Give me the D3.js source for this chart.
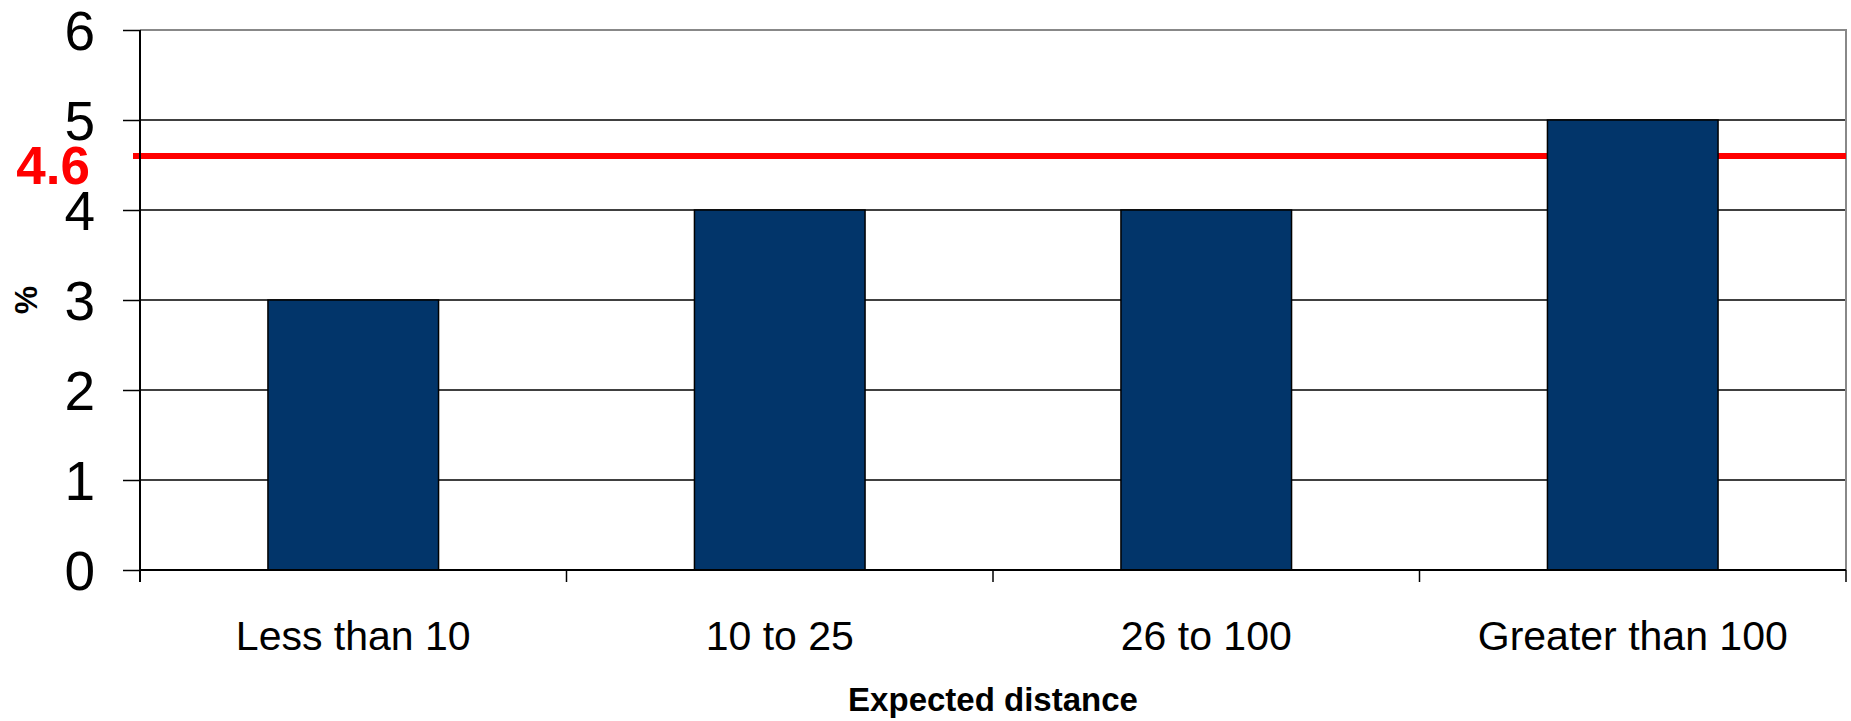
<!DOCTYPE html>
<html>
<head>
<meta charset="utf-8">
<script src="https://cdn.jsdelivr.net/npm/d3@7/dist/d3.min.js"></script>
<style>
  html, body { margin: 0; padding: 0; background: #fff; }
  svg { display: block; }
</style>
</head>
<body>
<svg id="chart" width="1851" height="721"></svg>
<script>
const categories = ["Less than 10", "10 to 25", "26 to 100", "Greater than 100"];
const values = [3, 4, 4, 5];
const yTicks = [0, 1, 2, 3, 4, 5, 6];
const referenceValue = 4.6;
const referenceLabel = "4.6";
const yTitle = "%";
const xTitle = "Expected distance";

const W = 1851, H = 721;
const m = { left: 140, right: 5, top: 30, bottom: 151 };
const svg = d3.select("#chart");

const x = d3.scaleBand().domain(categories).range([m.left, W - m.right]).padding(0);
const y = d3.scaleLinear().domain([0, 6]).range([H - m.bottom, m.top]);
const barW = x.bandwidth() * 0.4;

// gridlines
svg.append("g").selectAll("line").data(yTicks.filter(d => d > 0 && d < 6)).join("line")
  .attr("x1", m.left).attr("x2", W - m.right)
  .attr("y1", d => y(d)).attr("y2", d => y(d))
  .attr("stroke", "#000").attr("stroke-width", 1.5);

// top / right border (grey)
svg.append("path")
  .attr("d", `M${m.left},${y(6)}H${W - m.right}V${y(0)}`)
  .attr("fill", "none").attr("stroke", "#888").attr("stroke-width", 2);

// reference line (behind bars)
svg.append("line")
  .attr("x1", m.left - 7).attr("x2", W - m.right)
  .attr("y1", y(referenceValue)).attr("y2", y(referenceValue))
  .attr("stroke", "#ff0000").attr("stroke-width", 6);

// bars
svg.append("g").selectAll("rect").data(categories).join("rect")
  .attr("x", d => x(d) + (x.bandwidth() - barW) / 2)
  .attr("width", barW)
  .attr("y", (d, i) => y(values[i]))
  .attr("height", (d, i) => y(0) - y(values[i]))
  .attr("fill", "#02356a")
  .attr("stroke", "#000").attr("stroke-width", 1.5);

// y axis
const yAxis = svg.append("g").attr("transform", `translate(${m.left},0)`)
  .call(d3.axisLeft(y).tickValues(yTicks).tickSize(17).tickSizeOuter(0).tickPadding(28).tickFormat(d3.format("d")));
yAxis.select(".domain").remove();
yAxis.selectAll(".tick line").attr("stroke", "#000").attr("stroke-width", 1.5);
yAxis.selectAll(".tick text")
  .attr("font-family", "Liberation Sans, Arial, sans-serif")
  .attr("font-size", 55).attr("fill", "#000").attr("dy", "0.36em");
svg.append("line")
  .attr("x1", m.left).attr("x2", m.left)
  .attr("y1", y(6)).attr("y2", y(0) + 12)
  .attr("stroke", "#000").attr("stroke-width", 2);

// x axis
svg.append("line")
  .attr("x1", m.left).attr("x2", W - m.right)
  .attr("y1", y(0)).attr("y2", y(0))
  .attr("stroke", "#000").attr("stroke-width", 2);
const bounds = categories.map(c => x(c)).concat([x(categories[categories.length - 1]) + x.bandwidth()]);
svg.append("g").selectAll("line").data(bounds).join("line")
  .attr("x1", d => d).attr("x2", d => d)
  .attr("y1", y(0)).attr("y2", y(0) + 12)
  .attr("stroke", "#000").attr("stroke-width", 1.5);

const xAxis = svg.append("g").attr("transform", `translate(0,${y(0)})`)
  .call(d3.axisBottom(x).tickSize(0).tickSizeOuter(0).tickPadding(0));
xAxis.select(".domain").remove();
xAxis.selectAll(".tick text")
  .attr("font-family", "Liberation Sans, Arial, sans-serif")
  .attr("font-size", 41).attr("fill", "#000")
  .attr("dy", null).attr("y", 80)
  .attr("text-anchor", "middle");

// titles
svg.append("text")
  .attr("x", (m.left + W - m.right) / 2).attr("y", 711)
  .attr("text-anchor", "middle")
  .attr("font-family", "Liberation Sans, Arial, sans-serif")
  .attr("font-weight", "bold").attr("font-size", 33)
  .text(xTitle);

svg.append("text")
  .attr("transform", `translate(37,${(y(0) + y(6)) / 2}) rotate(-90)`)
  .attr("text-anchor", "middle")
  .attr("font-family", "Liberation Sans, Arial, sans-serif")
  .attr("font-weight", "bold").attr("font-size", 32)
  .text(yTitle);

// reference label
svg.append("text")
  .attr("x", 90).attr("y", y(referenceValue) + 28)
  .attr("text-anchor", "end")
  .attr("font-family", "Liberation Sans, Arial, sans-serif")
  .attr("font-weight", "bold").attr("font-size", 53)
  .attr("fill", "#ff0000")
  .text(referenceLabel);
</script>
</body>
</html>
